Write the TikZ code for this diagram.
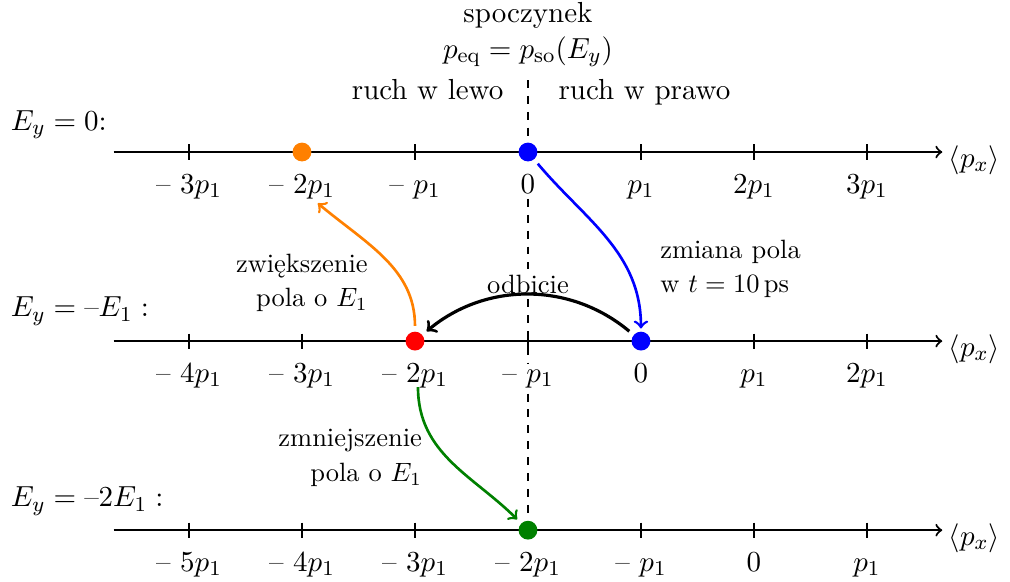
\documentclass[tikz,border=0pt]{standalone}
\usetikzlibrary{arrows.meta}
\definecolor{dkgreen}{RGB}{0,128,0}
\definecolor{myorange}{RGB}{255,128,0}
\begin{document}
\begin{tikzpicture}[font=\fontsize{10.95}{13.6}\selectfont,
  axisline/.style={thick,-to},
  tickmark/.style={semithick},
  ticklab/.style={anchor=base,inner sep=2pt},
  rowlab/.style={anchor=base west,inner sep=0pt},
  dot/.style={circle,fill=#1,inner sep=0pt,minimum size=0.25cm},
  annot/.style={font=\fontsize{10}{13}\selectfont,inner sep=0pt},
  carrow/.style={line width=1pt,-to,#1},
  vline/.style={semithick,dashed}]
\useasboundingbox (-7.009,2.018) rectangle (6.399,-5.695);
\def\yA{0}\def\yB{-2.51}\def\yC{-5.02}
\coordinate (dtop) at (0,0.956);
% top texts
\node[anchor=base] (spo) at (0,1.726) {spoczynek};
\node[anchor=base] (peq) at (0,1.248) {$p_{\mathrm{eq}} = p_{\mathrm{so}}(E_y)$};
\node[anchor=base east,inner sep=0pt] (lewo) at (-0.32,0.697) {ruch w lewo};
\node[anchor=base west,inner sep=0pt] (prawo) at (0.40,0.697) {ruch w prawo};
% axes
\foreach \yy/\nm in {\yA/A,\yB/B,\yC/C}{
  \coordinate (s\nm) at (-5.5,\yy);
  \coordinate (e\nm) at (5.5,\yy);
  \draw[axisline] (s\nm) -- (e\nm);
  \node[anchor=base west,inner sep=0pt] (px\nm) at (5.58,\yy-0.2) {$\langle p_x\rangle$};
  \foreach \i in {-3,...,3}{
    \draw[tickmark] (1.5*\i,\yy+0.1) -- (1.5*\i,\yy-0.1);
  }
}
% tick labels
\foreach \i/\t in {-3/{-- $3p_1$},-2/{-- $2p_1$},-1/{-- $p_1$},0/{$0$},1/{$p_1$},2/{$2p_1$},3/{$3p_1$}}{
  \node[ticklab] (la\i) at (1.5*\i,\yA-0.545) {\t};
}
\foreach \i/\t in {-3/{-- $4p_1$},-2/{-- $3p_1$},-1/{-- $2p_1$},0/{-- $p_1$},1/{$0$},2/{$p_1$},3/{$2p_1$}}{
  \node[ticklab] (lb\i) at (1.5*\i,\yB-0.545) {\t};
}
\foreach \i/\t in {-3/{-- $5p_1$},-2/{-- $4p_1$},-1/{-- $3p_1$},0/{-- $2p_1$},1/{-- $p_1$},2/{$0$},3/{$p_1$}}{
  \node[ticklab] (lc\i) at (1.5*\i,\yC-0.545) {\t};
}
% row labels
\node[rowlab] (rA) at (-6.87,0.29) {$E_y = 0$:};
\node[rowlab] (rB) at (-6.87,\yB+0.32) {$E_y = \mbox{--}E_1:$};
\node[rowlab] (rC) at (-6.87,\yC+0.31) {$E_y = \mbox{--}2E_1:$};
% dots
\node[dot=blue] (dB1) at (0,\yA) {};
\node[dot=myorange] (dO) at (-3,\yA) {};
\node[dot=red] (dR) at (-1.5,\yB) {};
\node[dot=blue] (dB2) at (1.5,\yB) {};
\node[dot=dkgreen] (dG) at (0,\yC) {};
% annotations
\node[annot,align=right,anchor=east] (zwi) at (-2.12,-1.739) {zwiększenie\\pola o $E_1$};
\node[annot,align=right,anchor=east] (zmn) at (-1.40,-4.062) {zmniejszenie\\pola o $E_1$};
\node[annot,align=left,anchor=west] (zmi) at (1.75,-1.553) {zmiana pola\\w $t = 10\,\mathrm{ps}$};
\node[annot,anchor=base,inner sep=2pt] (odb) at (0,-1.872) {odbicie};
% dashed rest line (interrupted by labels)
\draw[vline] (dtop) -- (dB1);
\draw[vline] (la0.south) -- (odb.north);
\draw[vline] (odb.south) -- (lb0.north);
\draw[vline] (lb0.south) -- (dG);
% arrows
\coordinate (oend) at (-2.79,-0.68);
\coordinate (gstart) at (-1.46,-3.12);
\draw[carrow=blue,shorten <=2pt,shorten >=1pt] (dB1) to[out=-50,in=90] (dB2);
\draw[carrow=myorange,shorten <=2pt] (dR) to[out=90,in=-40] (oend);
\draw[very thick,-to,shorten <=2pt,shorten >=2pt] (dB2) to[bend right=40] (dR);
\draw[carrow=dkgreen,shorten >=2pt] (gstart) to[out=-90,in=135] (dG);
\end{tikzpicture}
\end{document}
